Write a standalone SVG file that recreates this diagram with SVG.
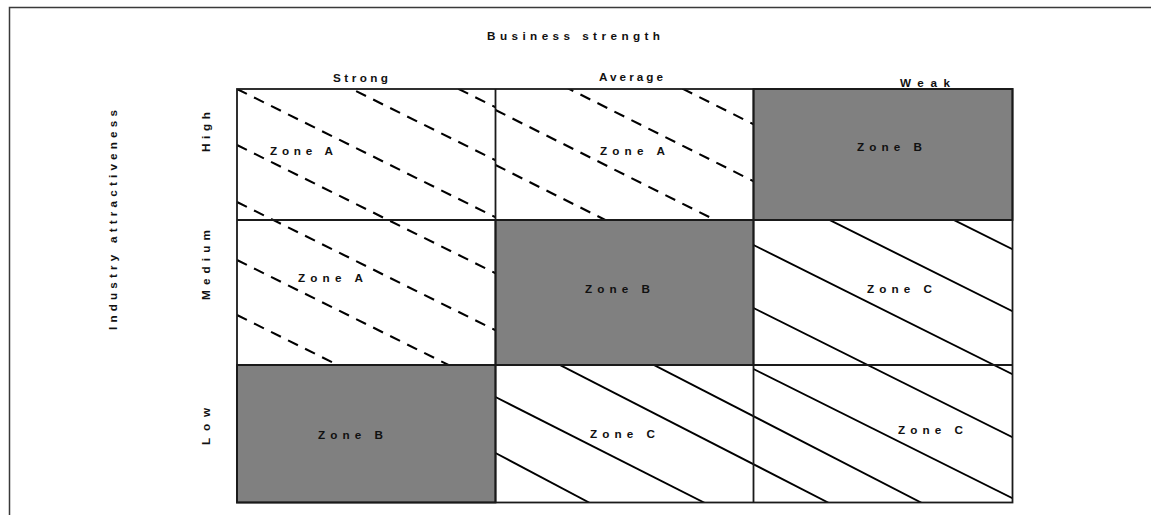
<svg xmlns="http://www.w3.org/2000/svg" width="1151" height="515" viewBox="0 0 1151 515">
  <style>
    .frame { fill: none; stroke: #3a3a3a; stroke-width: 1.5; }
    .grid { fill: none; stroke: #1a1a1a; stroke-width: 1.8; }
    .shade { fill: #808080; stroke: #1a1a1a; stroke-width: 1.8; }
    .dash { stroke: #000; stroke-width: 2.1; stroke-dasharray: 11 8; fill: none; }
    .solid { stroke: #000; stroke-width: 1.9; fill: none; }
    .lbl { font-family: "Liberation Sans", Arial, sans-serif; font-weight: bold; font-size: 11.7px; fill: #111; }
  </style>
  <defs>
    <clipPath id="clip-col1"><rect x="237" y="89" width="258.5" height="276"/></clipPath>
    <clipPath id="clip-c2r1"><rect x="495.5" y="89" width="258" height="131"/></clipPath>
    <clipPath id="clip-col3"><rect x="753.5" y="220" width="259" height="282.5"/></clipPath>
    <clipPath id="clip-row3"><rect x="495.5" y="365" width="517" height="137.5"/></clipPath>
  </defs>

  <rect width="1151" height="515" fill="#fff"/>
  <!-- outer frame, running off the right and bottom edges -->
  <rect class="frame" x="9.5" y="7.5" width="1200" height="600"/>

  <!-- axis titles -->
  <text class="lbl" x="487" y="40" textLength="173" lengthAdjust="spacing">Business strength</text>
  <text class="lbl" transform="translate(117,330) rotate(-90)" textLength="220" lengthAdjust="spacing">Industry attractiveness</text>

  <!-- column headings -->
  <text class="lbl" x="333" y="82" textLength="55" lengthAdjust="spacing">Strong</text>
  <text class="lbl" x="599" y="81" textLength="64" lengthAdjust="spacing">Average</text>
  <text class="lbl" x="900" y="87" textLength="50" lengthAdjust="spacing">Weak</text>

  <!-- row headings -->
  <text class="lbl" transform="translate(210,152) rotate(-90)" textLength="40" lengthAdjust="spacing">High</text>
  <text class="lbl" transform="translate(210,300) rotate(-90)" textLength="70" lengthAdjust="spacing">Medium</text>
  <text class="lbl" transform="translate(210,445) rotate(-90)" textLength="37" lengthAdjust="spacing">Low</text>

  <!-- hatching: dashed for zone A, solid for zone C -->
  <g id="hatching">
    <g clip-path="url(#clip-col1)">
      <line class="dash" x1="237" y1="-21" x2="500" y2="109.5"/>
      <line class="dash" x1="237" y1="32" x2="500" y2="162.5"/>
      <line class="dash" x1="237" y1="89" x2="500" y2="219.5"/>
      <line class="dash" x1="237" y1="145" x2="500" y2="275.5"/>
      <line class="dash" x1="237" y1="202" x2="500" y2="332.5"/>
      <line class="dash" x1="237" y1="260" x2="500" y2="390.5"/>
      <line class="dash" x1="237" y1="315" x2="500" y2="445.5"/>
    </g>
    <g clip-path="url(#clip-c2r1)">
      <line class="dash" x1="495.5" y1="-5" x2="760" y2="127.5"/>
      <line class="dash" x1="495.5" y1="52" x2="760" y2="184.5"/>
      <line class="dash" x1="495.5" y1="110" x2="760" y2="242.5"/>
      <line class="dash" x1="495.5" y1="165" x2="760" y2="297.5"/>
    </g>
    <g clip-path="url(#clip-col3)">
      <line class="solid" x1="753.5" y1="120" x2="1020" y2="253"/>
      <line class="solid" x1="753.5" y1="182" x2="1020" y2="315"/>
      <line class="solid" x1="753.5" y1="245" x2="1020" y2="378"/>
      <line class="solid" x1="753.5" y1="308" x2="1020" y2="441"/>
      <line class="solid" x1="753.5" y1="369" x2="1020" y2="502"/>
    </g>
    <g clip-path="url(#clip-row3)">
      <line class="solid" x1="495.5" y1="397" x2="705" y2="503"/>
      <line class="solid" x1="495.5" y1="453" x2="590" y2="503"/>
      <line class="solid" x1="558" y1="364" x2="829" y2="503"/>
      <line class="solid" x1="652" y1="364" x2="922" y2="503"/>
    </g>
  </g>

  <!-- cells -->
  <g id="cell-high-strong">
    <text class="lbl" x="270" y="155" textLength="63" lengthAdjust="spacing">Zone A</text>
  </g>
  <g id="cell-high-average">
    <text class="lbl" x="600" y="155" textLength="65" lengthAdjust="spacing">Zone A</text>
  </g>
  <g id="cell-high-weak">
    <rect class="shade" x="753.5" y="89" width="259" height="131"/>
    <text class="lbl" x="857" y="151" textLength="65" lengthAdjust="spacing">Zone B</text>
  </g>
  <g id="cell-medium-strong">
    <text class="lbl" x="298" y="282" textLength="65" lengthAdjust="spacing">Zone A</text>
  </g>
  <g id="cell-medium-average">
    <rect class="shade" x="495.5" y="220" width="258" height="145"/>
    <text class="lbl" x="585" y="293" textLength="65" lengthAdjust="spacing">Zone B</text>
  </g>
  <g id="cell-medium-weak">
    <text class="lbl" x="867" y="293" textLength="65" lengthAdjust="spacing">Zone C</text>
  </g>
  <g id="cell-low-strong">
    <rect class="shade" x="237" y="365" width="258.5" height="137.5"/>
    <text class="lbl" x="318" y="439" textLength="65" lengthAdjust="spacing">Zone B</text>
  </g>
  <g id="cell-low-average">
    <text class="lbl" x="590" y="438" textLength="65" lengthAdjust="spacing">Zone C</text>
  </g>
  <g id="cell-low-weak">
    <text class="lbl" x="898" y="434" textLength="65" lengthAdjust="spacing">Zone C</text>
  </g>

  <!-- grid lines -->
  <g id="connectors">
    <rect class="grid" x="237" y="89" width="775.5" height="413.5"/>
    <line class="grid" x1="495.5" y1="89" x2="495.5" y2="502.5"/>
    <line class="grid" x1="753.5" y1="89" x2="753.5" y2="502.5"/>
    <line class="grid" x1="237" y1="220" x2="1012.5" y2="220"/>
    <line class="grid" x1="237" y1="365" x2="1012.5" y2="365"/>
  </g>
</svg>
